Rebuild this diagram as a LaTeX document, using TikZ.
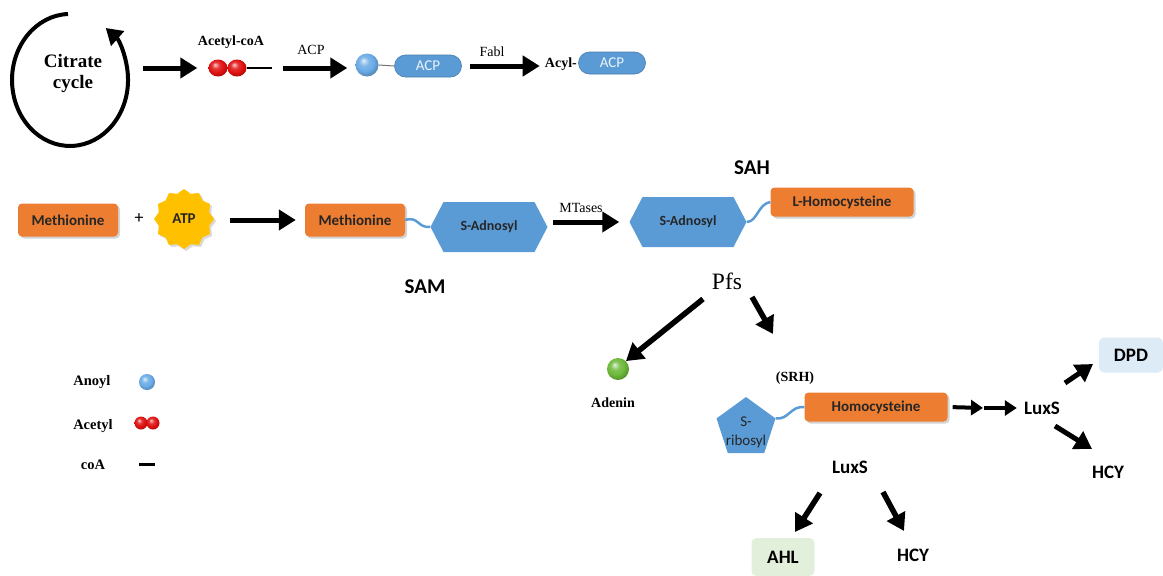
\documentclass[tikz,border=0pt]{standalone}
\usepackage{fontspec}
\setmainfont{Liberation Serif}
\newfontfamily\carl{Carlito}
\usetikzlibrary{arrows.meta,shapes.geometric,shapes.symbols,shadows}
\definecolor{org}{HTML}{ED7D31}
\definecolor{blu}{HTML}{5B9BD5}
\definecolor{balb}{HTML}{6AAAE6}
\definecolor{balr}{HTML}{E01010}
\definecolor{balg}{HTML}{6CB838}
\definecolor{dpdc}{HTML}{DDEBF7}
\definecolor{ahlc}{HTML}{E2EFDA}
\definecolor{goldc}{HTML}{FFC000}
\makeatletter
\pgfdeclareradialshading[tikz@ball]{softball}{\pgfqpoint{-8bp}{10bp}}{%
  color(0bp)=(tikz@ball!20!white); color(10bp)=(tikz@ball!85!white);
  color(20bp)=(tikz@ball); color(28bp)=(tikz@ball!80!black); color(50bp)=(tikz@ball!55!black)}
\makeatother
\begin{document}
\begin{tikzpicture}[x=1pt,y=-1pt,
  bigarr/.style={line width=5pt,-{Triangle[length=17pt,width=20pt]}},
  diagarr/.style={line width=5.5pt,-{Triangle[length=17pt,width=20pt]}},
  smallarr/.style={line width=4pt,-{Triangle[length=12pt,width=15pt]}},
  orangebox/.style={rectangle, rounded corners=4pt, fill=org, inner sep=0pt,
    font=\carl\bfseries\fontsize{15}{18}\selectfont, text=black!85,
    drop shadow={opacity=0.35,shadow xshift=2pt,shadow yshift=-2pt}},
  hexa/.style={signal, signal to=east and west, signal pointer angle=125, fill=blu,
    minimum width=117pt, minimum height=50pt, inner sep=0pt,
    font=\carl\bfseries\fontsize{14}{16}\selectfont, text=black!85},
  pill/.style={rectangle, rounded corners=11pt, fill=blu, draw=blu!80!black, line width=0.6pt,
    minimum width=67pt, minimum height=22pt, inner sep=0pt,
    font=\carl\fontsize{15}{18}\selectfont, text=white!88!blu},
  wave/.style={draw=blu, line width=2.5pt},
  lab/.style={font=\bfseries\fontsize{14}{16}\selectfont, inner sep=0pt},
  enz/.style={font=\fontsize{14}{16}\selectfont, inner sep=0pt},
  bigsans/.style={font=\carl\bfseries\fontsize{21}{24}\selectfont, inner sep=0pt},
  midsans/.style={font=\carl\bfseries\fontsize{19}{22}\selectfont, inner sep=0pt},
  lightbox/.style={rectangle, rounded corners=5pt, inner sep=0pt,
    font=\carl\bfseries\fontsize{19}{22}\selectfont},
  ballnode/.style={circle, inner sep=0pt},
  sball/.style={ball color=#1, shading=softball},
]
\useasboundingbox (0,0) rectangle (1163,576);

% ---------- Citrate cycle ----------
\draw[line width=4pt, -{Triangle[length=16pt,width=19pt]}]
  (68,14) arc[start angle=268, end angle=-52, x radius=58, y radius=66];
\node[align=center, font=\bfseries\fontsize{19}{21}\selectfont] (cyc) at (73,73) {Citrate\\cycle};
\coordinate (cycR) at (128,68);

% ---------- Acetyl-coA ----------
\node[lab] (acetylcoa) at (231,42) {Acetyl-coA};
\node[ellipse, sball=balr, minimum width=19pt, minimum height=17pt, inner sep=0pt] (rd1) at (218,68) {};
\node[ellipse, sball=balr, minimum width=19pt, minimum height=17pt, inner sep=0pt] (rd2) at (237,68) {};
\coordinate (coaEnd) at (272,68);
\draw[line width=2pt] (rd2.east) -- (coaEnd);
\draw[bigarr, shorten <=15pt, shorten >=11pt] (cycR) -- (rd1.west);

% ---------- ACP ----------
\node[ballnode, sball=balb, minimum size=23pt] (ball1) at (367,65) {};
\node[pill] (pill1) at (428,66) {ACP};
\draw[black!55, line width=1pt] (ball1.east) -- (pill1.west);
\draw[bigarr, shorten <=11pt, shorten >=8pt] (coaEnd) -- (ball1.west |- coaEnd);
\node[enz] (acplab) at (311,50) {ACP};

\node[lab, anchor=east] (acyl) at (577,64) {Acyl-};
\node[pill] (pill2) at (612,63) {ACP};
\draw[bigarr, shorten <=8pt, shorten >=5pt] (pill1.east) -- (acyl.west |- pill1.east);
\node[enz] (fabl) at (492,52) {Fabl};

% ---------- Methionine row ----------
\node[orangebox, minimum width=100pt, minimum height=33pt] (meth1) at (68,220) {Methionine};
\node[font=\carl\fontsize{18}{20}\selectfont] (plus) at (139,219) {+};
\node[star, star points=12, star point ratio=1.15, fill=goldc, minimum size=60pt, inner sep=0pt,
      font=\carl\bfseries\fontsize{15}{18}\selectfont, text=black!85,
      drop shadow={opacity=0.3,shadow xshift=2pt,shadow yshift=-2pt}] (atp) at (184,219) {ATP};
\node[orangebox, minimum width=100pt, minimum height=33pt] (meth2) at (355,220) {Methionine};
\draw[bigarr, shorten <=16pt, shorten >=9pt] (atp.east |- meth2.west) -- (meth2.west);

\node[hexa] (hex1) at (489,227) {S-Adnosyl};
\draw[wave] (meth2.east) .. controls (419,216) and (417,228) .. (hex1.west);
\node[bigsans] (sam) at (425,287) {SAM};

\node[hexa] (hex2) at (688,222) {S-Adnosyl};
\draw[bigarr, shorten <=5pt, shorten >=10pt] (hex1.east |- hex2.west) -- (hex2.west);
\node[enz] (mtases) at (581,208) {MTases};

\node[orangebox, minimum width=143pt, minimum height=29pt] (lhom) at (842,202) {L-Homocysteine};
\draw[wave] (hex2.east) .. controls (757,222) and (758,204) .. (lhom.west);
\node[bigsans] (sah) at (752,168) {SAH};

% ---------- Pfs ----------
\node[font=\fontsize{23.5}{26}\selectfont, inner sep=0pt] (pfs) at (727,281) {Pfs};
\node[ballnode, sball=balg, minimum size=22pt] (aden) at (618,369) {};
\node[lab] (adenlab) at (613,403) {Adenin};
\coordinate (pfsA) at (703,299);
\coordinate (pfsB) at (752,297);
\coordinate (pfsBend) at (773,334);
\draw[diagarr] (pfsA) -- (aden.north east);
\draw[diagarr] (pfsB) -- (pfsBend);

% ---------- SRH ----------
\node[lab] (srh) at (795,378) {(SRH)};
\node[regular polygon, regular polygon sides=5, fill=blu, minimum size=62pt, inner sep=0pt] (srib) at (746,428) {};
\node[align=center, font=\carl\fontsize{15}{19}\selectfont, text=black!85, inner sep=0pt] (sribtxt) at (746,432) {S-\\ribosyl};
\node[orangebox, minimum width=143pt, minimum height=29pt] (homo) at (876,407) {Homocysteine};
\draw[wave] (srib.corner 5) .. controls (789,420) and (790,406) .. (homo.west);

% ---------- LuxS right ----------
\node[midsans] (lux1) at (1042,408) {LuxS};
\coordinate (midA) at (983,408);
\draw[smallarr, shorten <=5pt] (homo.east) -- (midA);
\draw[smallarr, shorten <=1pt, shorten >=7pt] (midA) -- (lux1.west);
\node[lightbox, fill=dpdc, minimum width=64pt, minimum height=35pt] (dpd) at (1131,355) {DPD};
\node[midsans] (hcy1) at (1108,472) {HCY};
\coordinate (l1a) at (1065,383);
\coordinate (l1b) at (1093,364);
\coordinate (l1c) at (1055,426);
\coordinate (l1d) at (1092,449);
\draw[diagarr, line width=5pt] (l1a) -- (l1b);
\draw[diagarr, line width=5pt] (l1c) -- (l1d);

% ---------- LuxS bottom ----------
\node[midsans] (lux2) at (850,467) {LuxS};
\node[lightbox, fill=ahlc, minimum width=63pt, minimum height=38pt] (ahl) at (783,557) {AHL};
\node[midsans] (hcy2) at (913,555) {HCY};
\coordinate (l2a) at (820,493);
\coordinate (l2b) at (795,532);
\coordinate (l2c) at (883,492);
\coordinate (l2d) at (904,531);
\draw[diagarr] (l2a) -- (l2b);
\draw[diagarr] (l2c) -- (l2d);

% ---------- Legend ----------
\node[lab, font=\bfseries\fontsize{14.5}{16}\selectfont] (lgA) at (92,382) {Anoyl};
\node[ballnode, sball=balb, minimum size=16pt] (lgAb) at (147,382) {};
\node[lab, font=\bfseries\fontsize{14.5}{16}\selectfont] (lgB) at (93,426) {Acetyl};
\node[ballnode, sball=balr, minimum size=13pt] (lgBr1) at (141,423) {};
\node[ballnode, sball=balr, minimum size=13pt] (lgBr2) at (153,423) {};
\node[lab, font=\bfseries\fontsize{14.5}{16}\selectfont] (lgC) at (93,465) {coA};
\coordinate (lgCa) at (139,464);
\coordinate (lgCb) at (155,464);
\draw[line width=3pt] (lgCa) -- (lgCb);
\end{tikzpicture}
\end{document}
